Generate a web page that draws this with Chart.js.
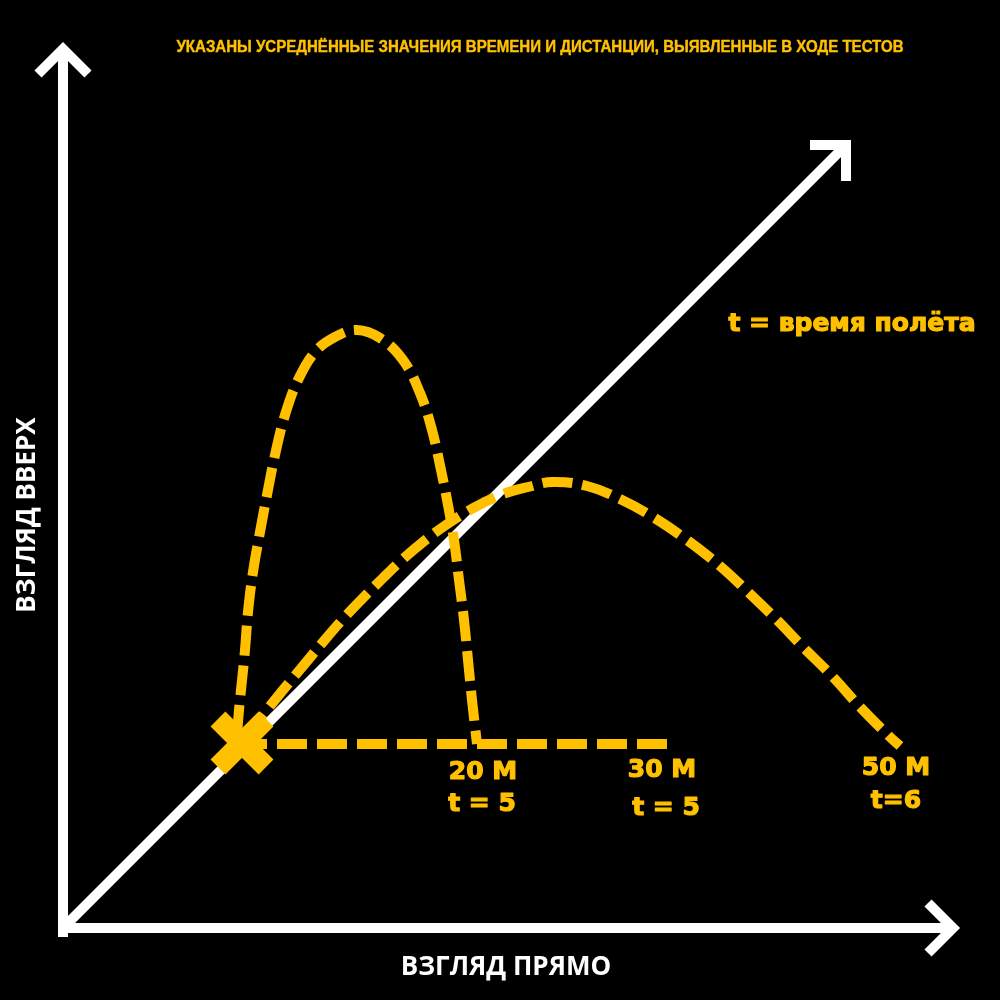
<!DOCTYPE html>
<html><head><meta charset="utf-8">
<script src="https://cdn.jsdelivr.net/npm/chart.js@4.4.1/dist/chart.umd.min.js"></script>
<style>
html,body{margin:0;padding:0;background:#000;overflow:hidden;}
#wrap{width:1000px;height:1000px;position:relative;}
canvas{display:block;}
</style>
</head><body><div id="wrap"><canvas id="c"></canvas></div>
<script>
// ---- texts ----
const titleText = "УКАЗАНЫ УСРЕДНЁННЫЕ ЗНАЧЕНИЯ ВРЕМЕНИ И ДИСТАНЦИИ, ВЫЯВЛЕННЫЕ В ХОДЕ ТЕСТОВ";
const xAxisLabel = "ВЗГЛЯД ПРЯМО";
const yAxisLabel = "ВЗГЛЯД ВВЕРХ";
const noteText = "t = время полёта";
const distanceLabels = ["20 М", "30 М", "50 М"];
const timeLabels = ["t = 5", "t = 5", "t=6"];

// ---- data (diagram units; origin where the axes meet) ----
// high trajectory (20 m, t = 5)
const highX = [174,176,178,182,185,190,197,204,212,222,235,252,272,294,317,340,357,369,378,385,391,396,401,405,409,414];
const highY = [193,218,238,278,316,356,396,433,473,513,548,576,591,598,590,568,535,498,458,423,388,348,308,268,228,184];
// wide trajectory (50 m, t = 6)
const wideX = [182,200,220,240,260,280,300,320,340,360,380,400,420,440,465,490,524,557,590,624,657,684,714,740,770,797,827,837];
const wideY = [190,213,238,262,286,309,330,350,369,386,401,414,425,434,441,446,442,429,411,388,362,337,308,281,251,221,191,182];
// flat trajectory (30 m, t = 5)
const flatX = [174, 604];
const flatY = [184, 184];
// launch point
const launchX = [179];
const launchY = [185];
// axes
const upAxisX = [0, 0];
const upAxisY = [-9, 879];
const upArrowX = [-25, 0, 25];
const upArrowY = [854, 879, 854];
const fwdAxisX = [-5, 890];
const fwdAxisY = [0, 0];
const fwdArrowX = [865, 890, 865];
const fwdArrowY = [25, 0, -25];
const diagX = [0, 783];
const diagY = [0, 783];
const diagArrowX = [747, 783, 783];
const diagArrowY = [783, 783, 747];

const YELLOW = '#FFC000';
const WHITE = '#FFFFFF';

function pts(xs, ys){ return xs.map((x,i)=>({x:x, y:ys[i]})); }

function whiteLine(xs, ys){
  return {type:'line', data:pts(xs,ys), borderColor:WHITE, borderWidth:10, pointRadius:0,
    borderCapStyle:'butt', borderJoinStyle:'miter', tension:0, order:10, fill:false};
}
function yellowDash(xs, ys, tension){
  return {type:'line', data:pts(xs,ys), borderColor:YELLOW, borderWidth:10, pointRadius:0,
    borderDash:[30,10], borderCapStyle:'butt', borderJoinStyle:'miter', tension:tension,
    order:5, fill:false};
}

const textPlugin = {
  id:'texts',
  beforeDraw(chart){
    const ctx = chart.ctx;
    ctx.save(); ctx.fillStyle = '#000'; ctx.fillRect(0,0,chart.width,chart.height); ctx.restore();
  },
  afterDatasetsDraw(chart){
    const ctx = chart.ctx, sx = chart.scales.x, sy = chart.scales.y;
    const P = (x,y)=>[sx.getPixelForValue(x), sy.getPixelForValue(y)];
    function txt(s, x, y, font, color, targetW, rot, stroke){
      const [px,py] = P(x,y);
      ctx.save();
      ctx.font = font; ctx.fillStyle = color; ctx.textAlign='center'; ctx.textBaseline='middle';
      ctx.translate(px,py);
      if (rot) ctx.rotate(rot);
      if (targetW){ const w = ctx.measureText(s).width; ctx.scale(targetW/w, 1); }
      ctx.fillText(s, 0, 0);
      if (stroke){ ctx.strokeStyle = color; ctx.lineWidth = stroke; ctx.lineJoin='round'; ctx.strokeText(s, 0, 0); }
      ctx.restore();
    }
    const yf = 'bold 25px "DejaVu Sans"';
    txt(titleText, 477, 880, 'bold 16px "Liberation Sans Narrow", "Liberation Sans"', YELLOW, 727, 0, 0.4);
    txt(noteText, 789, 604, yf, YELLOW, null, 0, 1.2);
    const dPos = [[420,156],[599,158],[833,160]];
    const tPos = [[419,124],[603,120],[833,127]];
    distanceLabels.forEach((s,i)=>txt(s, dPos[i][0], dPos[i][1], yf, YELLOW, null, 0, 1.2));
    timeLabels.forEach((s,i)=>txt(s, tPos[i][0], tPos[i][1], yf, YELLOW, null, 0, 1.2));
    txt(xAxisLabel, 443, -40, 'bold 26px "Open Sans"', WHITE);
    txt(yAxisLabel, -35, 413, 'bold 26px "Open Sans"', WHITE, null, -Math.PI/2);
  }
};

new Chart(document.getElementById('c'), {
  type:'line',
  data:{ datasets:[
    whiteLine(upAxisX, upAxisY),
    whiteLine(upArrowX, upArrowY),
    whiteLine(fwdAxisX, fwdAxisY),
    whiteLine(fwdArrowX, fwdArrowY),
    whiteLine(diagX, diagY),
    whiteLine(diagArrowX, diagArrowY),
    yellowDash(flatX, flatY, 0),
    yellowDash(highX, highY, 0.4),
    yellowDash(wideX, wideY, 0.4),
    {type:'scatter', data:pts(launchX, launchY), pointStyle:'crossRot', pointRadius:34,
     borderColor:YELLOW, backgroundColor:YELLOW, pointBorderWidth:21, borderWidth:21, order:1, showLine:false, clip:false}
  ]},
  options:{
    responsive:true, maintainAspectRatio:false, devicePixelRatio:1, animation:false, events:[],
    layout:{padding:0, autoPadding:false},
    plugins:{legend:{display:false}, tooltip:{enabled:false}, title:{display:false}},
    scales:{
      x:{type:'linear', min:-63, max:937, display:false},
      y:{type:'linear', min:-72, max:928, display:false}
    }
  },
  plugins:[textPlugin]
});
</script>
</body></html>
